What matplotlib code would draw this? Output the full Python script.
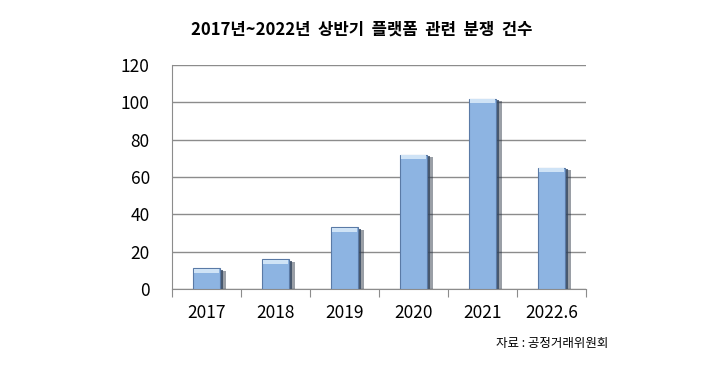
import matplotlib
matplotlib.use("Agg")
import matplotlib.pyplot as plt
import numpy as np

plt.rcParams['font.family'] = ['Noto Sans CJK KR', 'DejaVu Sans']

# 데이터
years = ["2017", "2018", "2019", "2020", "2021", "2022.6"]
cases = [11, 16, 33, 72, 102, 65]

fig = plt.figure(figsize=(7.2, 3.66), dpi=100)
ax = fig.add_axes([0.239, 0.2104, 0.575, 0.612])

x = np.arange(len(years))
w = 0.39

# 그림자
ax.bar(x + 0.08, np.array(cases) - 1.5, width=w, color='#1f2a3a', alpha=0.45,
       linewidth=0, zorder=2)
ax.bar(x + 0.045, np.array(cases) - 0.8, width=w, color='#34465f', alpha=0.8,
       linewidth=0, zorder=2)
# 막대
ax.bar(x, cases, width=w, color='#8db4e2', edgecolor='#5a7aa6',
       linewidth=0.8, zorder=3)
# 윗면 하이라이트
ax.bar(x, [2.2] * len(cases), width=w * 0.9, bottom=np.array(cases) - 2.5,
       color='#cfe3f6', linewidth=0, zorder=4)

ax.set_xlim(-0.5, len(years) - 0.5)
ax.set_ylim(0, 120)
ax.set_yticks(range(0, 121, 20))
ax.yaxis.grid(True, color='#8c8c8c', linewidth=1.0, zorder=0)
ax.set_axisbelow(True)

# x축 구간 눈금
ax.set_xticks(np.arange(-0.5, len(years), 1.0))
ax.set_xticklabels([])
ax.set_xticks(x, minor=True)
ax.set_xticklabels(years, minor=True, fontsize=12.5)
ax.tick_params(axis='x', which='major', length=6, color='#8c8c8c', direction='out')
ax.tick_params(axis='x', which='minor', length=0, pad=11)
ax.tick_params(axis='y', length=0, labelsize=12.5, pad=16)

for s in ['top', 'right']:
    ax.spines[s].set_visible(False)
ax.spines['left'].set_color('#8c8c8c')
ax.spines['bottom'].set_color('#8c8c8c')

fig.text(0.503, 0.918, "2017년~2022년  상반기  플랫폼  관련  분쟁  건수",
         ha='center', va='center', fontsize=12, fontweight='bold')
fig.text(0.845, 0.062, "자료 : 공정거래위원회", ha='right', va='center', fontsize=9)

fig.savefig("out.png", dpi=100, facecolor='white')
